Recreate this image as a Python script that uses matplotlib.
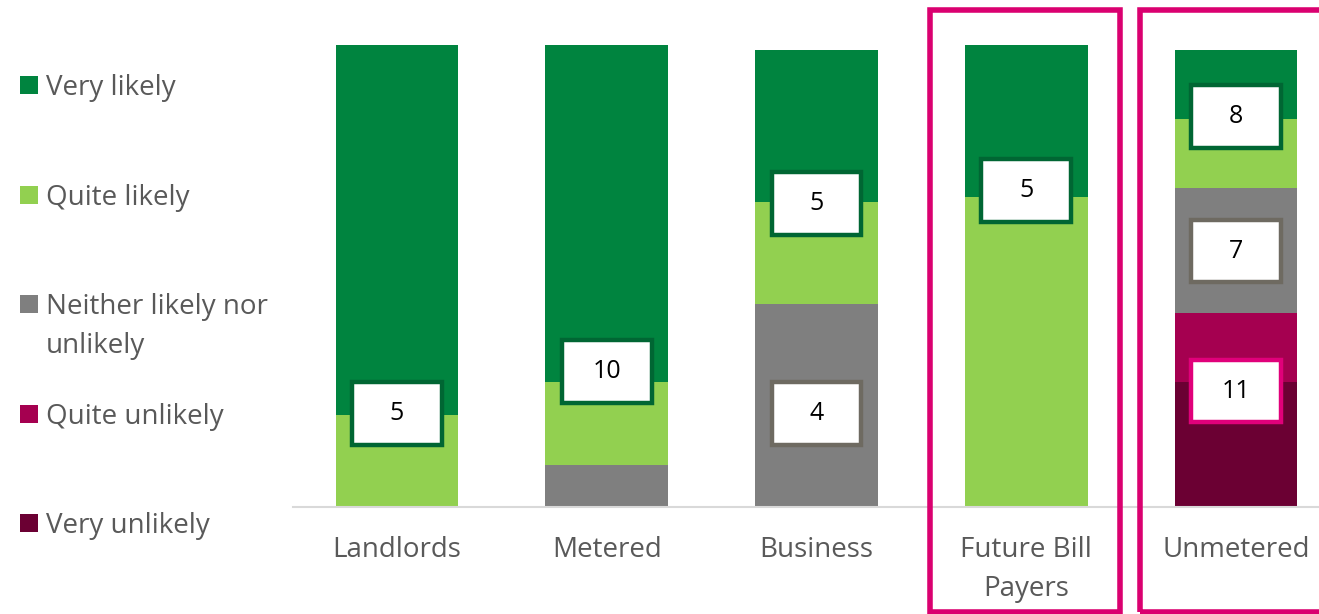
import matplotlib
matplotlib.use("Agg")
import matplotlib.pyplot as plt
from matplotlib.patches import Rectangle
import numpy as np

plt.rcParams['font.family'] = ['Open Sans', 'DejaVu Sans']

# data (percent of respondents per group)
groups = ['Landlords', 'Metered', 'Business', 'Future Bill\nPayers', 'Unmetered']
responses = ['Very unlikely', 'Quite unlikely', 'Neither likely nor\nunlikely',
             'Quite likely', 'Very likely']
very_unlikely = [0, 0, 0, 0, 27]
quite_unlikely = [0, 0, 0, 0, 15]
neither = [0, 9, 44, 0, 27]
quite_likely = [20, 18, 22, 67, 15]
very_likely = [80, 73, 33, 33, 15]
colors = ['#6B0033', '#A50050', '#7F7F7F', '#92D050', '#00843F']

# base counts shown in the white boxes: (group index, y position in %, count, kind)
box_group = [0, 1, 2, 2, 3, 4, 4, 4]
box_y = [20.2, 29.4, 65.7, 20.2, 68.5, 84.5, 55.4, 25.1]
box_count = ['5', '10', '5', '4', '5', '8', '7', '11']
box_edge = ['#006633', '#006633', '#006633', '#6E6A61', '#006633', '#006633', '#6E6A61', '#E0007A']

W, H = 1319, 614
fig = plt.figure(figsize=(W / 100, H / 100), dpi=100)


def fx(px):
    return px / W


def fy(py):
    return 1 - py / H


ax = fig.add_axes([fx(293), fy(507), fx(1319) - fx(293), (507 - 45) / H])
ax.set_xlim(-0.4958, 4.3957)
ax.set_ylim(0, 100)

x = np.arange(len(groups))
series = [very_unlikely, quite_unlikely, neither, quite_likely, very_likely]
bottom = np.zeros(len(groups))
for vals, c in zip(series, colors):
    ax.bar(x, vals, width=0.586, bottom=bottom, color=c, linewidth=0)
    bottom += np.array(vals)

bw, bh = 0.429, 13.6
for g, yv, n, ec in zip(box_group, box_y, box_count, box_edge):
    ax.add_patch(Rectangle((g - bw / 2, yv - bh / 2), bw, bh, facecolor='white',
                           edgecolor=ec, linewidth=3.2, zorder=3))
    ax.text(g, yv, n, ha='center', va='center', fontsize=18, color='black', zorder=4)

for s in ['top', 'right', 'left']:
    ax.spines[s].set_visible(False)
ax.spines['bottom'].set_color('#D9D9D9')
ax.spines['bottom'].set_linewidth(1.5)
ax.set_xticks([])
ax.set_yticks([])

# category labels
for i, g in enumerate(groups):
    xp = 397 + i * 209.75
    for j, line in enumerate(g.split('\n')):
        fig.text(fx(xp), fy(557 + j * 39), line, ha='center', va='baseline',
                 fontsize=20, color='#595959')

# legend
legend_base = [94, 204, 313, 423, 532]
for lab, c, yb in zip(responses[::-1], colors[::-1], legend_base):
    fig.add_artist(Rectangle((fx(20), fy(yb)), fx(18), 18 / H, transform=fig.transFigure,
                             facecolor=c, edgecolor='none'))
    for j, line in enumerate(lab.split('\n')):
        fig.text(fx(46), fy(yb + 1 + j * 39), line, ha='left', va='baseline',
                 fontsize=20, color='#595959')

# highlight frames
pink = '#DA0070'
fig.add_artist(Rectangle((fx(929.5), fy(612)), fx(1119.5) - fx(929.5), (612 - 10) / H,
                         transform=fig.transFigure, fill=False, edgecolor=pink, linewidth=4))
fig.add_artist(Rectangle((fx(1140), fy(612)), fx(1335) - fx(1140), (612 - 10) / H,
                         transform=fig.transFigure, fill=False, edgecolor=pink, linewidth=4))

fig.savefig('out.png', dpi=100)
